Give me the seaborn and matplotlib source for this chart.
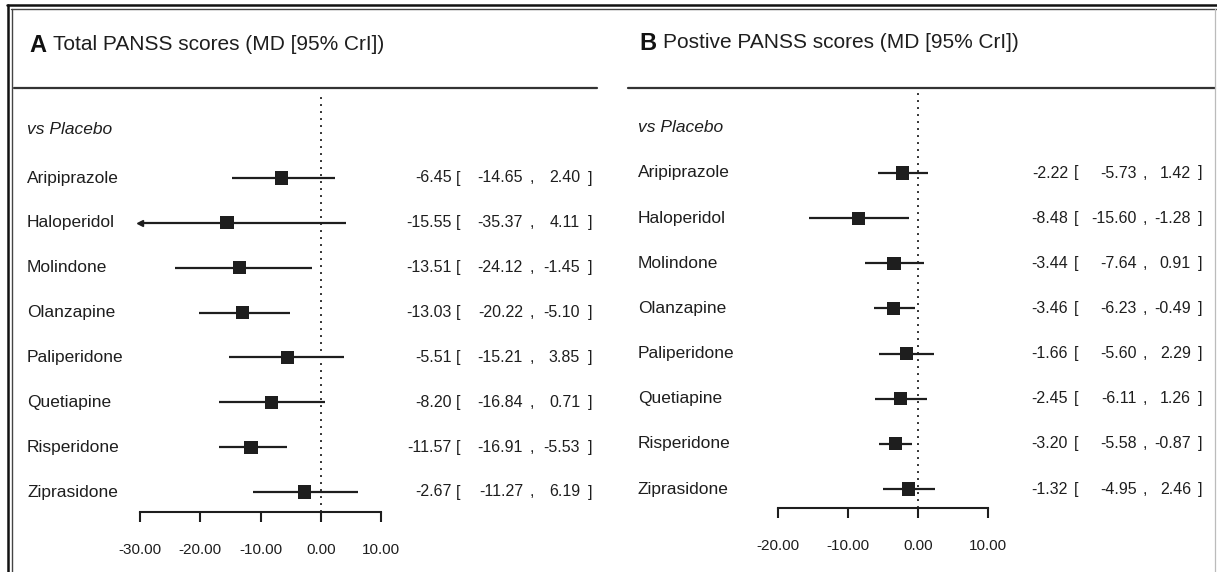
import numpy as np
import pandas as pd
import matplotlib
matplotlib.use("Agg")
import matplotlib.pyplot as plt
from matplotlib.lines import Line2D
from matplotlib.transforms import blended_transform_factory
import seaborn as sns

# ---------------- data ----------------
drugs = ["Aripiprazole", "Haloperidol", "Molindone", "Olanzapine",
         "Paliperidone", "Quetiapine", "Risperidone", "Ziprasidone"]

total_md = [-6.45, -15.55, -13.51, -13.03, -5.51, -8.20, -11.57, -2.67]
total_lo = [-14.65, -35.37, -24.12, -20.22, -15.21, -16.84, -16.91, -11.27]
total_hi = [2.40, 4.11, -1.45, -5.10, 3.85, 0.71, -5.53, 6.19]

pos_md = [-2.22, -8.48, -3.44, -3.46, -1.66, -2.45, -3.20, -1.32]
pos_lo = [-5.73, -15.60, -7.64, -6.23, -5.60, -6.11, -5.58, -4.95]
pos_hi = [1.42, -1.28, 0.91, -0.49, 2.29, 1.26, -0.87, 2.46]

total_ticks = [-30, -20, -10, 0, 10]
pos_ticks = [-20, -10, 0, 10]

title_a = ("A", "Total PANSS scores (MD [95% CrI])")
title_b = ("B", "Postive PANSS scores (MD [95% CrI])")
group_label = "vs Placebo"

# ---------------- style ----------------
sns.set_theme(style="white")
plt.rcParams["font.family"] = ["Liberation Sans", "DejaVu Sans"]
INK = "#1e1e1e"

W, H = 1217, 572
fig = plt.figure(figsize=(W / 100, H / 100), dpi=100)
fig.patch.set_facecolor("white")


def fx(x):
    return x / W


def fy(y):
    return 1 - y / H


def panel(x0, x1, y_top, y_bot, row0, row7, ticks, md, lo, hi,
          name_x, cols, title, title_x, text_x, title_y, vs_y, rule_x):
    ax = fig.add_axes([fx(x0), fy(y_bot), fx(x1 - x0), (y_bot - y_top) / H])
    ax.set_facecolor("none")
    s = (row7 - row0) / 7.0
    ax.set_ylim((y_bot - row0) / s, (y_top - row0) / s)
    xmin, xmax = ticks[0], ticks[-1]
    ax.set_xlim(xmin, xmax)

    df = pd.DataFrame({"drug": drugs, "md": md, "lo": lo, "hi": hi,
                       "row": np.arange(len(drugs))})
    lo_c = np.maximum(df["lo"].values, xmin)
    ax.hlines(df["row"], lo_c, df["hi"], color=INK, lw=1.6, zorder=2)
    clipped = df["lo"].values < xmin
    if clipped.any():
        ax.plot(np.full(clipped.sum(), xmin), df["row"][clipped], marker="<",
                ls="none", color=INK, ms=5, zorder=3, clip_on=False)
    sns.scatterplot(data=df, x="md", y="row", marker="s", s=90, color=INK,
                    edgecolor="none", ax=ax, zorder=4, legend=False)
    ax.axvline(0, color="#333333", lw=1.4, ls=(0, (1, 2.6)), zorder=1)

    for sp in ["top", "left", "right"]:
        ax.spines[sp].set_visible(False)
    ax.spines["bottom"].set_color(INK)
    ax.spines["bottom"].set_linewidth(1.5)
    ax.set_xticks(ticks)
    ax.set_xticklabels([f"{t:.2f}" for t in ticks])
    ax.tick_params(axis="x", direction="out", length=7, width=1.5,
                   color=INK, labelsize=11, labelcolor=INK, pad=15,
                   bottom=True)
    ax.set_yticks([])
    ax.set_xlabel("")
    ax.set_ylabel("")

    tr = blended_transform_factory(fig.transFigure, ax.transData)
    ax.text(fx(name_x), (vs_y - row0) / s, group_label, transform=tr,
            fontsize=12.5, style="italic", color=INK, va="center", ha="left")
    c_md, c_lb, c_lo, c_cm, c_hi, c_rb = cols
    fs = 11.5
    for i, r in df.iterrows():
        y = r["row"]
        ax.text(fx(name_x), y, r["drug"], transform=tr, fontsize=12.5,
                color=INK, va="center", ha="left")
        ax.text(fx(c_md), y, f"{r['md']:.2f}", transform=tr, fontsize=fs,
                color=INK, va="center", ha="right")
        ax.text(fx(c_lb), y, "[", transform=tr, fontsize=fs,
                color=INK, va="center", ha="center")
        ax.text(fx(c_lo), y, f"{r['lo']:.2f}", transform=tr, fontsize=fs,
                color=INK, va="center", ha="right")
        ax.text(fx(c_cm), y, ",", transform=tr, fontsize=fs,
                color=INK, va="center", ha="center")
        ax.text(fx(c_hi), y, f"{r['hi']:.2f}", transform=tr, fontsize=fs,
                color=INK, va="center", ha="right")
        ax.text(fx(c_rb), y, "]", transform=tr, fontsize=fs,
                color=INK, va="center", ha="center")

    fig.text(fx(title_x), fy(title_y), title[0], fontsize=17, weight="bold",
             color="#111111", va="center", ha="left")
    fig.text(fx(text_x), fy(title_y), title[1], fontsize=15,
             color=INK, va="center", ha="left")
    fig.add_artist(Line2D([fx(rule_x[0]), fx(rule_x[1])], [fy(88), fy(88)],
                          color="#333333", lw=1.6))
    return ax


panel(140, 381, 95, 512, 178, 492, total_ticks, total_md, total_lo, total_hi,
      27, (452, 458, 523, 532, 580, 590), title_a, 29, 53, 45, 130, (14, 597))
panel(778, 988, 91, 508, 173, 489, pos_ticks, pos_md, pos_lo, pos_hi,
      638, (1068, 1076, 1137, 1145, 1191, 1200), title_b, 639, 663, 43, 128,
      (628, 1215))

# frame (double border at top and left, thin grey at right)
fig.add_artist(Line2D([fx(7), fx(1217)], [fy(5), fy(5)], color="#111111", lw=1.8))
fig.add_artist(Line2D([fx(11), fx(1217)], [fy(9), fy(9)], color="#444444", lw=1.0))
fig.add_artist(Line2D([fx(8), fx(8)], [fy(5), fy(572)], color="#111111", lw=1.8))
fig.add_artist(Line2D([fx(12), fx(12)], [fy(9), fy(572)], color="#444444", lw=1.0))
fig.add_artist(Line2D([fx(1214.5), fx(1214.5)], [fy(9), fy(572)], color="#bbbbbb", lw=0.9))

fig.savefig("out.png", dpi=100)
